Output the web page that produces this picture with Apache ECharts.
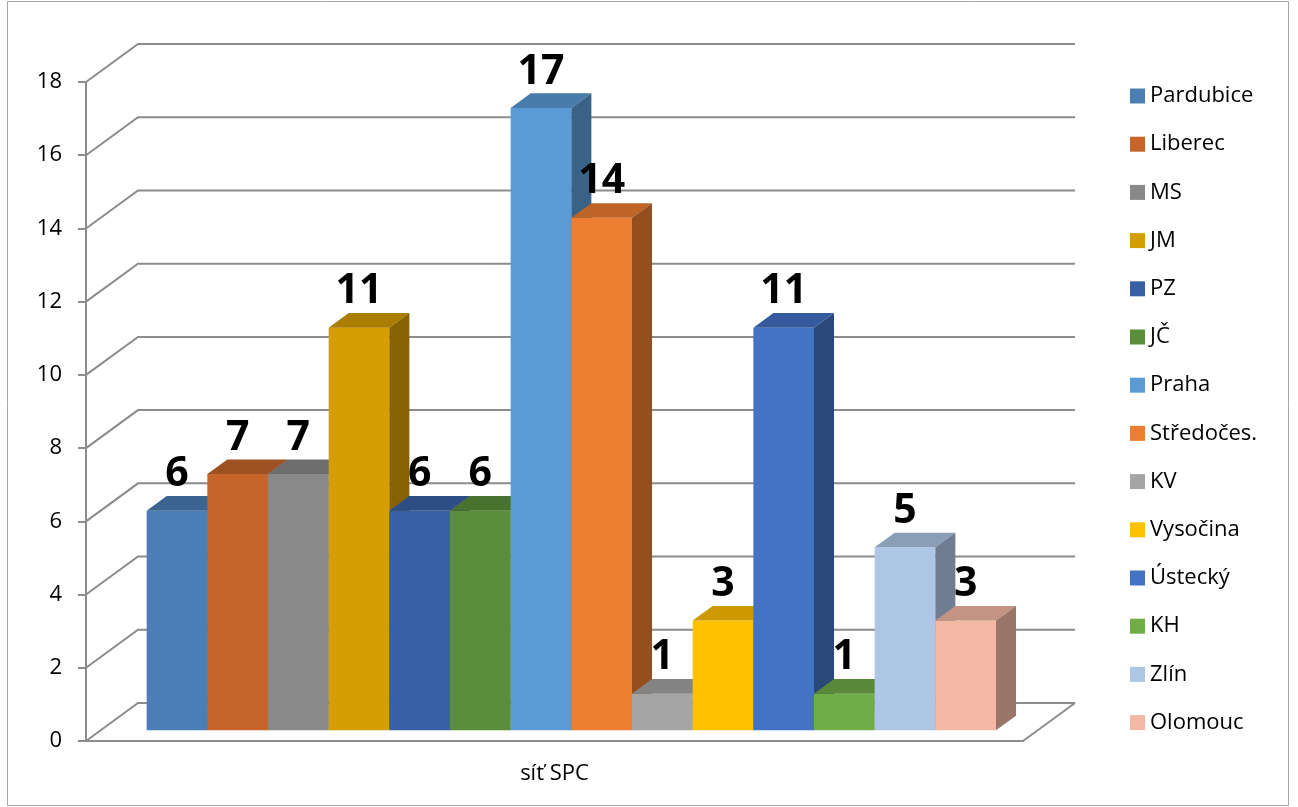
<!DOCTYPE html>
<html>
<head>
<meta charset="utf-8">
<script src="https://cdn.jsdelivr.net/npm/echarts@6/dist/echarts.min.js"></script>
<style>
	html, body { margin: 0; padding: 0; background: #fff; }
	#chart { width: 1298px; height: 807px; }
</style>
</head>
<body>
<div id="chart"></div>
<script>
// data
const category = ['síť SPC']
const regions = ['Pardubice', 'Liberec', 'MS', 'JM', 'PZ', 'JČ', 'Praha', 'Středočes.', 'KV', 'Vysočina', 'Ústecký', 'KH', 'Zlín', 'Olomouc']
const values = [6, 7, 7, 11, 6, 6, 17, 14, 1, 3, 11, 1, 5, 3]
const yTicks = [0, 2, 4, 6, 8, 10, 12, 14, 16, 18]
const colors = ['#4a7eb4', '#c5652a', '#898989', '#d49d00', '#3860a6', '#5a8e3a', '#5b9bd5', '#ed7d31',
	'#a5a5a5', '#ffc000', '#4472c4', '#70ad47', '#aec6e6', '#f4b9a5']

// 3d look
const DEPTH_X = 52
const DEPTH_Y = -38
const BAR_FRONT = 0.28
const BAR_BACK = 0.665
const FONT = '"Open Sans", "Liberation Sans", sans-serif'
const LINE = '#8c8c8c'

const shade = (hex, k) => {
	const n = parseInt(hex.slice(1), 16)
	const r = Math.round(((n >> 16) & 255) * k)
	const g = Math.round(((n >> 8) & 255) * k)
	const b = Math.round((n & 255) * k)
	return `rgb(${r},${g},${b})`
}

const myChart = echarts.init(document.getElementById('chart'))

const gridSeries = {
	type: 'custom',
	name: '__grid',
	xAxisIndex: 1,
	clip: false,
	silent: true,
	data: yTicks.map((v) => [0, v]),
	renderItem: (params, api) => {
		const cs = params.coordSys
		const y = api.coord([0, api.value(1)])[1]
		const left = cs.x
		const right = cs.x + cs.width
		const children = [
			{
				type: 'polyline',
				shape: {
					points: [
						[left, y],
						[left + DEPTH_X, y + DEPTH_Y],
						[right + DEPTH_X, y + DEPTH_Y],
					],
				},
				style: { stroke: LINE, lineWidth: 2, fill: null },
			},
		]
		if (api.value(1) === 0) {
			children.push({
				type: 'line',
				shape: { x1: right, y1: y, x2: right + DEPTH_X, y2: y + DEPTH_Y },
				style: { stroke: LINE, lineWidth: 2 },
			})
		}
		return { type: 'group', children }
	},
}

const barSeries = regions.map((name, i) => ({
	type: 'custom',
	name: name,
	xAxisIndex: 1,
	clip: false,
	itemStyle: { color: colors[i] },
	data: [[i, values[i]]],
	renderItem: (params, api) => {
		const idx = api.value(0)
		const v = api.value(1)
		const p0 = api.coord([idx, 0])
		const p1 = api.coord([idx + 1, v])
		const fx = DEPTH_X * BAR_FRONT
		const fy = DEPTH_Y * BAR_FRONT
		const dx = DEPTH_X * (BAR_BACK - BAR_FRONT)
		const dy = DEPTH_Y * (BAR_BACK - BAR_FRONT)
		const x0 = p0[0] + fx
		const x1 = p1[0] + fx
		const yb = p0[1] + fy
		const yt = p1[1] + fy
		const c = colors[i]
		return {
			type: 'group',
			children: [
				{
					type: 'rect',
					shape: { x: x0, y: yt, width: x1 - x0, height: yb - yt },
					style: { fill: c },
				},
				{
					type: 'polygon',
					shape: { points: [[x0, yt], [x1, yt], [x1 + dx, yt + dy], [x0 + dx, yt + dy]] },
					style: { fill: shade(c, 0.8) },
				},
				{
					type: 'polygon',
					shape: { points: [[x1, yt], [x1 + dx, yt + dy], [x1 + dx, yb + dy], [x1, yb]] },
					style: { fill: shade(c, 0.63) },
				},
				{
					type: 'text',
					z2: 10,
					style: {
						text: String(v),
						x: (x0 + x1) / 2,
						y: yt + dy - 1,
						align: 'center',
						verticalAlign: 'bottom',
						fill: '#000',
						font: `bold 41px ${FONT}`,
					},
				},
			],
		}
	},
}))

const options = {
	animation: false,
	color: colors,
	textStyle: { fontFamily: FONT },
	graphic: [
		{
			type: 'rect',
			silent: true,
			shape: { x: 7.5, y: 1.5, width: 1281, height: 804 },
			style: { fill: null, stroke: '#a6a6a6', lineWidth: 1 },
		},
	],
	grid: {
		left: 86,
		top: 82,
		width: 937,
		height: 659,
		containLabel: false,
	},
	legend: {
		orient: 'vertical',
		left: 1130,
		top: 85,
		padding: 0,
		icon: 'rect',
		itemWidth: 15,
		itemHeight: 15,
		itemGap: 26.2,
		data: regions,
		textStyle: { fontSize: 22, color: '#000', fontFamily: FONT },
	},
	xAxis: [
		{
			type: 'category',
			data: category,
			boundaryGap: true,
			axisLine: { lineStyle: { color: LINE, width: 2 } },
			axisTick: { length: 8, lineStyle: { color: LINE, width: 2 } },
			axisLabel: { fontSize: 22, color: '#000', margin: 22, fontFamily: FONT },
			splitLine: { show: false },
		},
		{
			type: 'value',
			min: -0.76,
			max: 14.685,
			show: false,
			splitLine: { show: false },
		},
	],
	yAxis: {
		type: 'value',
		min: 0,
		max: 18,
		interval: 2,
		axisLine: { show: true, onZero: false, lineStyle: { color: LINE, width: 2 } },
		axisTick: { show: true, length: 8, lineStyle: { color: LINE, width: 2 } },
		axisLabel: { fontSize: 22, color: '#000', margin: 24, fontFamily: FONT },
		splitLine: { show: false },
	},
	series: [gridSeries, ...barSeries],
}

myChart.setOption(options)
</script>
</body>
</html>
